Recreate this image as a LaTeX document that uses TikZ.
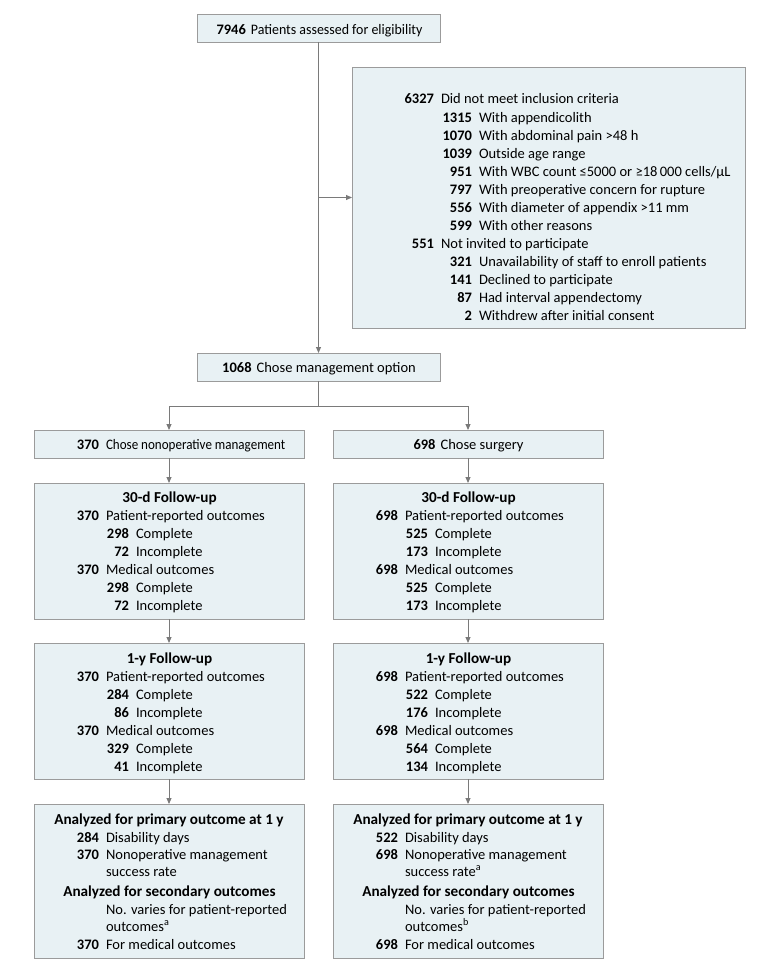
\documentclass[tikz,border=0pt]{standalone}
\usepackage{fontspec}
\setmainfont{Carlito}
\usetikzlibrary{arrows.meta}
\definecolor{boxfill}{HTML}{E8F1F4}
\definecolor{boxline}{HTML}{9B9B9B}
\definecolor{connline}{HTML}{7A7A7A}
\tikzset{
 box/.style={draw=boxline, fill=boxfill, line width=0.9pt, inner sep=0pt, outer sep=0pt, anchor=north west},
 txt/.style={inner sep=0pt, outer sep=0pt, font=\fontsize{14.5}{17}\selectfont},
 numtxt/.style={txt, anchor=base east, font=\fontsize{14.5}{17}\selectfont\bfseries},
 lbltxt/.style={txt, anchor=base west},
 ttl/.style={txt, anchor=base, font=\fontsize{15.2}{17}\selectfont\bfseries},
 ctr/.style={txt, anchor=base},
 conn/.style={draw=connline, line width=0.9pt},
 arr/.style={conn, -{Triangle[length=6pt,width=5pt]}},
}
\newcommand\mkbox[5]{\node[box, minimum width={#4-#2}, minimum height={#5-#3}] (#1) at (#2,-#3) {};}
\newcommand\nrow[5]{\node[numtxt] (#1n) at (#2,-#3) {#4};\node[lbltxt] (#1t) at ({#2+7},-#3) {#5};}
\newcommand\trow[4]{\node[lbltxt] (#1) at (#2,-#3) {#4};}
\begin{document}
\begin{tikzpicture}[x=1pt,y=1pt]
\useasboundingbox (0,0) rectangle (780,-971);
% boxes
\mkbox{top}{197}{14}{440}{42}
\mkbox{excl}{352}{67}{745}{328}
\mkbox{mgmt}{197}{353}{440}{381}
\mkbox{nonop}{34}{430}{304}{458}
\mkbox{surg}{333}{430}{603}{458}
\mkbox{dL}{34}{483}{304}{619}
\mkbox{dR}{333}{483}{603}{619}
\mkbox{yL}{34}{643}{304}{779}
\mkbox{yR}{333}{643}{603}{779}
\mkbox{aL}{34}{804}{304}{958}
\mkbox{aR}{333}{804}{603}{958}
% connectors
\draw[arr] (top.south) -- (mgmt.north);
\draw[arr] (top.south |- excl.west) -- (excl.west);
\coordinate (sp) at (318.5,-406);
\draw[conn] (mgmt.south) -- (sp);
\draw[arr] (sp) -| (nonop.north);
\draw[arr] (sp) -| (surg.north);
\draw[arr] (nonop.south) -- (dL.north);
\draw[arr] (surg.south) -- (dR.north);
\draw[arr] (dL.south) -- (yL.north);
\draw[arr] (dR.south) -- (yR.north);
\draw[arr] (yL.south) -- (aL.north);
\draw[arr] (yR.south) -- (aR.north);
% top texts
\node[ctr] (toptxt) at (319.5,-34.5) {\textbf{7946}\hspace{5pt}\scalebox{0.96}[1]{Patients assessed for eligibility}};
\node[ctr] (mgmttxt) at (319,-372) {\textbf{1068}\hspace{5pt}Chose management option};
\nrow{nonop}{99}{449}{370}{\scalebox{0.9}[1]{Chose nonoperative management}}
\node[ctr] (surgtxt) at (468.5,-449) {\textbf{698}\hspace{5pt}Chose surgery};
% exclusion
\nrow{e1}{434}{104}{6327}{Did not meet inclusion criteria}
\nrow{e2}{472}{122}{1315}{With appendicolith}
\nrow{e3}{472}{140}{1070}{With abdominal pain >48 h}
\nrow{e4}{472}{158}{1039}{Outside age range}
\nrow{e5}{472}{176}{951}{With WBC count ≤5000 or ≥18\,000 cells/μL}
\nrow{e6}{472}{194}{797}{With preoperative concern for rupture}
\nrow{e7}{472}{212}{556}{With diameter of appendix >11 mm}
\nrow{e8}{472}{230}{599}{With other reasons}
\nrow{e9}{434}{248}{551}{Not invited to participate}
\nrow{e10}{472}{266}{321}{Unavailability of staff to enroll patients}
\nrow{e11}{472}{284}{141}{Declined to participate}
\nrow{e12}{472}{302}{87}{Had interval appendectomy}
\nrow{e13}{472}{320}{2}{Withdrew after initial consent}
% 30-d left
\node[ttl] (dLt) at (169.5,-502.5) {30-d Follow-up};
\nrow{dL1}{99}{520.5}{370}{Patient-reported outcomes}
\nrow{dL2}{129}{538.5}{298}{Complete}
\nrow{dL3}{129}{556.5}{72}{Incomplete}
\nrow{dL4}{99}{574.5}{370}{Medical outcomes}
\nrow{dL5}{129}{592.5}{298}{Complete}
\nrow{dL6}{129}{610.5}{72}{Incomplete}
% 30-d right
\node[ttl] (dRt) at (468.5,-502.5) {30-d Follow-up};
\nrow{dR1}{398}{520.5}{698}{Patient-reported outcomes}
\nrow{dR2}{428}{538.5}{525}{Complete}
\nrow{dR3}{428}{556.5}{173}{Incomplete}
\nrow{dR4}{398}{574.5}{698}{Medical outcomes}
\nrow{dR5}{428}{592.5}{525}{Complete}
\nrow{dR6}{428}{610.5}{173}{Incomplete}
% 1-y left
\node[ttl] (yLt) at (169.5,-663) {1-y Follow-up};
\nrow{yL1}{99}{681}{370}{Patient-reported outcomes}
\nrow{yL2}{129}{699}{284}{Complete}
\nrow{yL3}{129}{717}{86}{Incomplete}
\nrow{yL4}{99}{735}{370}{Medical outcomes}
\nrow{yL5}{129}{753}{329}{Complete}
\nrow{yL6}{129}{771}{41}{Incomplete}
% 1-y right
\node[ttl] (yRt) at (468.5,-663) {1-y Follow-up};
\nrow{yR1}{398}{681}{698}{Patient-reported outcomes}
\nrow{yR2}{428}{699}{522}{Complete}
\nrow{yR3}{428}{717}{176}{Incomplete}
\nrow{yR4}{398}{735}{698}{Medical outcomes}
\nrow{yR5}{428}{753}{564}{Complete}
\nrow{yR6}{428}{771}{134}{Incomplete}
% analyzed left
\node[ttl] (aLt1) at (169,-824) {Analyzed for primary outcome at 1 y};
\nrow{aL1}{99}{842}{284}{Disability days}
\nrow{aL2}{99}{859.5}{370}{Nonoperative management}
\trow{aL3}{106}{876}{success rate}
\node[ttl] (aLt2) at (169.5,-896) {Analyzed for secondary outcomes};
\trow{aL4}{106}{914}{No. varies for patient-reported}
\trow{aL5}{106}{931}{outcomes\textsuperscript{a}}
\nrow{aL6}{99}{949.5}{370}{For medical outcomes}
% analyzed right
\node[ttl] (aRt1) at (468,-824) {Analyzed for primary outcome at 1 y};
\nrow{aR1}{398}{842}{522}{Disability days}
\nrow{aR2}{398}{859.5}{698}{Nonoperative management}
\trow{aR3}{405}{876}{success rate\textsuperscript{a}}
\node[ttl] (aRt2) at (468.5,-896) {Analyzed for secondary outcomes};
\trow{aR4}{405}{914}{No. varies for patient-reported}
\trow{aR5}{405}{931}{outcomes\textsuperscript{b}}
\nrow{aR6}{398}{949.5}{698}{For medical outcomes}
\end{tikzpicture}
\end{document}
